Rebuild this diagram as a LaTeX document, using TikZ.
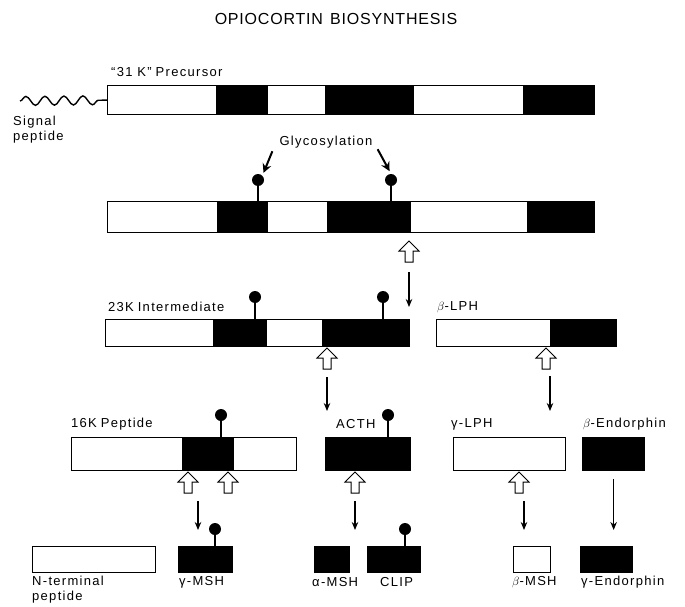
\documentclass[tikz,border=0pt]{standalone}
\usepackage{fontspec}
\setmainfont{Liberation Sans}
\newfontfamily\lblfont[LetterSpace=10]{Liberation Sans}
\newfontfamily\ttlfont[LetterSpace=5]{Liberation Sans}
\usetikzlibrary{arrows.meta,decorations.pathmorphing}

\tikzset{
  lbl/.style={font=\lblfont\fontsize{13}{15}\selectfont,inner sep=0pt,anchor=west},
  wbox/.style={draw,line width=1.3pt,fill=white,inner sep=0pt,anchor=north west},
  bbox/.style={wbox,fill=black},
  stem/.style={line width=1.1pt},
  move/.style={line width=1.3pt,-{Stealth[length=8pt,width=6.5pt]}},
  glyc/.style={line width=2pt,-{Stealth[length=9pt,width=9pt]}},
  knob/.style={circle,fill=black,inner sep=0pt,minimum size=12pt},
  cleave/.pic={
    \draw[line width=1pt,fill=white] (0,0) -- (10,10) -- (4,10) -- (4,21)
      -- (-4,21) -- (-4,10) -- (-10,10) -- cycle;
    \coordinate (-tip) at (0,0);
    \coordinate (-tail) at (0,21);
  },
}

\begin{document}
\begin{tikzpicture}[x=1pt,y=-1pt]
  \useasboundingbox (0,0) rectangle (685,607);
  % title
  \node[font=\ttlfont\fontsize{16}{18}\selectfont,inner sep=0pt] (title) at (336,19)
    {OPIOCORTIN\hspace{0.45em}BIOSYNTHESIS};

  % "31 K" precursor
  \node[lbl] (prelbl) at (111,72) {“31 K”\hspace{0.3em}Precursor};
  \node[wbox,minimum width=487pt,minimum height=29pt] (pre) at (107,85) {};
  \foreach \a/\b in {216/268,325/414,523/594}
    \fill (\a,85) rectangle (\b,114);
  \coordinate (sigend) at (20,101);
  \draw[line width=1.4pt,decorate,decoration={snake,amplitude=4.5pt,segment length=19pt}]
    (sigend) -- (pre.west);
  \node[lbl,anchor=north west,align=left] (sig) at (13,116) {Signal\\peptide};

  % glycosylated precursor
  \node[wbox,minimum width=487pt,minimum height=31pt] (pro) at (107,201) {};
  \foreach \a/\b in {217/268,327/411,527/594}
    \fill (\a,201) rectangle (\b,232);
  \node[knob] (k1) at (258,180) {};
  \node[knob] (k2) at (391,180) {};
  \draw[stem] (k1) -- (k1 |- pro.north);
  \draw[stem] (k2) -- (k2 |- pro.north);
  \node[lbl,anchor=center] (gly) at (326,142) {Glycosylation};
  \draw[glyc,shorten >=3pt] ([shift={(-7pt,-3pt)}]gly.south west) -- (k1.north east);
  \draw[glyc,shorten >=3pt] ([shift={(5pt,-1pt)}]gly.south east) -- (k2.north);
  \pic (c1) at (409,241) {cleave};

  % 23K intermediate and beta-LPH
  \node[lbl] (intlbl) at (108,307) {23K\hspace{0.3em}Intermediate};
  \node[wbox,minimum width=304pt,minimum height=27pt] (inter) at (105,319) {};
  \foreach \a/\b in {213/267,322/409}
    \fill (\a,319) rectangle (\b,346);
  \node[knob] (k3) at (255,297) {};
  \node[knob] (k4) at (383,297) {};
  \draw[stem] (k3) -- (k3 |- inter.north);
  \draw[stem] (k4) -- (k4 |- inter.north);
  \node[lbl] (blphlbl) at (437,307) {$\beta$-LPH};
  \node[wbox,minimum width=180pt,minimum height=27pt] (blph) at (436,319) {};
  \fill (550,319) rectangle (616,346);
  \draw[move,shorten >=12pt] ([yshift=-10pt]c1-tail) -- (c1-tail |- inter.north);
  \pic (c2) at (327,348) {cleave};
  \pic (c3) at (546,348) {cleave};

  % fourth row
  \node[lbl] (pep16lbl) at (71,424) {16K\hspace{0.3em}Peptide};
  \node[wbox,minimum width=225pt,minimum height=33pt] (pep16) at (71,437) {};
  \fill (182,437) rectangle (234,470);
  \node[knob] (k5) at (221,415) {};
  \draw[stem] (k5) -- (k5 |- pep16.north);
  \node[lbl] (acthlbl) at (336,424) {ACTH};
  \node[bbox,minimum width=85pt,minimum height=33pt] (acth) at (325,437) {};
  \node[knob] (k6) at (388,415) {};
  \draw[stem] (k6) -- (k6 |- acth.north);
  \node[lbl] (glphlbl) at (451,424) {γ-LPH};
  \node[wbox,minimum width=112pt,minimum height=33pt] (glph) at (453,437) {};
  \node[lbl] (bendlbl) at (583,424) {$\beta$-Endorphin};
  \node[bbox,minimum width=62pt,minimum height=33pt] (bend) at (582,437) {};
  \coordinate (lphcut) at (550,348);
  \draw[move,shorten >=26pt] ([yshift=-28pt]lphcut) -- (lphcut |- glph.north);
  \draw[move,shorten >=26pt] ([yshift=-8pt]c2-tail) -- (c2-tail |- acth.north);
  \pic (c4) at (188,472) {cleave};
  \pic (c5) at (228,472) {cleave};
  \pic (c6) at (355,472) {cleave};
  \pic (c7) at (519,472) {cleave};

  % end products
  \node[wbox,minimum width=123pt,minimum height=26pt] (nterm) at (32,546) {};
  \node[bbox,minimum width=54pt,minimum height=26pt] (gmsh) at (178,546) {};
  \node[bbox,minimum width=35pt,minimum height=26pt] (amsh) at (314,546) {};
  \node[bbox,minimum width=53pt,minimum height=26pt] (clip) at (367,546) {};
  \node[wbox,minimum width=37pt,minimum height=26pt] (bmsh) at (513,546) {};
  \node[bbox,minimum width=52pt,minimum height=26pt] (gend) at (580,546) {};
  \node[knob] (k7) at (215,529) {};
  \node[knob] (k8) at (405,529) {};
  \draw[stem] (k7) -- (k7 |- gmsh.north);
  \draw[stem] (k8) -- (k8 |- clip.north);
  \node[lbl,anchor=north west,align=left] (ntermlbl) at (32,576) {N-terminal\\peptide};
  \node[lbl] (gmshlbl) at (179,582) {γ-MSH};
  \node[lbl] (amshlbl) at (312,582) {α-MSH};
  \node[lbl] (cliplbl) at (380,582) {CLIP};
  \node[lbl] (bmshlbl) at (512,582) {$\beta$-MSH};
  \node[lbl] (gendlbl) at (581,582) {γ-Endorphin};
  \draw[move,shorten >=16pt] ([xshift=10pt,yshift=-8pt]c4-tail) -- ([xshift=10pt]c4-tail |- gmsh.north);
  \draw[move,shorten >=16pt] ([yshift=-8pt]c6-tail) -- (c6-tail |- amsh.north);
  \draw[move,shorten >=16pt] ([xshift=5pt,yshift=-8pt]c7-tail) -- ([xshift=5pt]c7-tail |- bmsh.north);
  \draw[move,shorten >=16pt] ([yshift=-8pt]bend.south) -- (bend.south |- gend.north);
\end{tikzpicture}
\end{document}
